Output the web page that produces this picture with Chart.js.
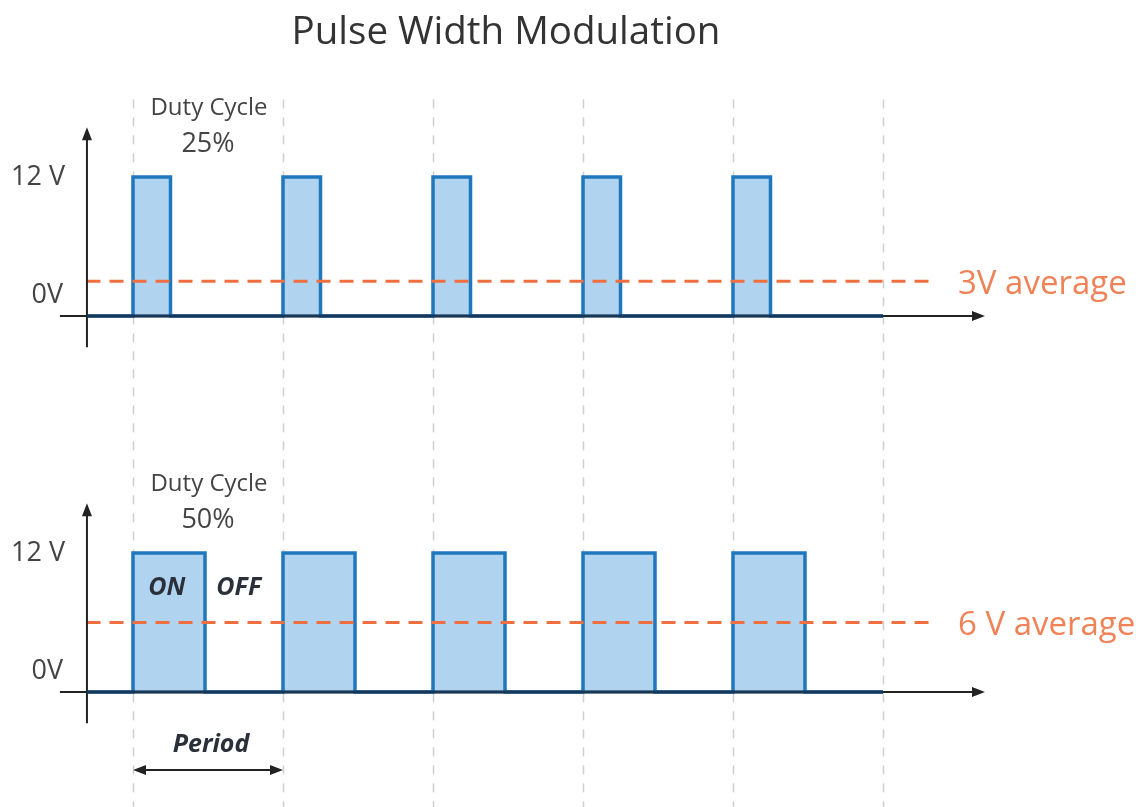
<!DOCTYPE html>
<html>
<head>
<meta charset="utf-8">
<title>Pulse Width Modulation</title>
<script src="https://cdn.jsdelivr.net/npm/chart.js@4.4.1/dist/chart.umd.min.js"></script>
<style>
  html, body { margin: 0; padding: 0; background: #fff; }
  #wrap { position: relative; width: 1142px; height: 807px; }
</style>
</head>
<body>
<div id="wrap"><canvas id="pwm"></canvas></div>
<script>
// temps en périodes, tension en volts
const topTimes = [-0.31, 0, 0.25, 1, 1.25, 2, 2.25, 3, 3.25, 4, 4.25, 5];
const topVolts = [0, 12, 0, 12, 0, 12, 0, 12, 0, 12, 0, 0];
const botTimes = [-0.31, 0, 0.48, 1, 1.48, 2, 2.48, 3, 3.48, 4, 4.48, 5];
const botVolts = [0, 12, 0, 12, 0, 12, 0, 12, 0, 12, 0, 0];
const avgTimes = [-0.31, 5.34];
const topAvg = [3, 3];
const botAvg = [6, 6];
const periodMarks = [0, 1, 2, 3, 4, 5];
const voltTicks = [12, 0];
const voltLabels = ['12 V', '0V'];
const avgLabels = ['3V average', '6 V average'];
const dutyLabels = ['25%', '50%'];

const BLUE = '#1f77bd';
const FILL = '#b0d3ef';
const ORANGE = '#ef6f40';
const ORANGE_TXT = '#f08258';
const GREY_TXT = '#444';
const FONT = '"Open Sans", "Noto Sans", sans-serif';

const pts = (xs, ys) => xs.map((x, i) => ({ x: x, y: ys[i] }));

function signal(xs, ys, axis) {
  return {
    data: pts(xs, ys), yAxisID: axis, stepped: true,
    borderColor: BLUE, borderWidth: 3.5, backgroundColor: FILL,
    fill: 'origin', pointRadius: 0, order: 2
  };
}
function average(ys, axis) {
  return {
    data: pts(avgTimes, ys), yAxisID: axis,
    borderColor: ORANGE, borderWidth: 3, borderDash: [14, 9],
    fill: false, pointRadius: 0, order: 1
  };
}

function arrowHead(ctx, x, y, dir) {
  // dir: 'up' | 'right' | 'left'
  ctx.beginPath();
  if (dir === 'up') { ctx.moveTo(x, y); ctx.lineTo(x - 5, y + 13); ctx.lineTo(x + 5, y + 13); }
  if (dir === 'right') { ctx.moveTo(x, y); ctx.lineTo(x - 13, y - 5); ctx.lineTo(x - 13, y + 5); }
  if (dir === 'left') { ctx.moveTo(x, y); ctx.lineTo(x + 13, y - 5); ctx.lineTo(x + 13, y + 5); }
  ctx.closePath();
  ctx.fill();
}

const decor = {
  id: 'decor',
  beforeDatasetsDraw(chart) {
    const { ctx, scales } = chart;
    const xs = scales.x, yt = scales.yTop;
    // lignes pointillées des périodes
    ctx.save();
    ctx.strokeStyle = '#cfcfcf';
    ctx.lineWidth = 1.5;
    ctx.setLineDash([9, 9]);
    periodMarks.forEach(t => {
      const px = Math.round(xs.getPixelForValue(t)) + 0.5;
      ctx.beginPath();
      ctx.moveTo(px, yt.getPixelForValue(18.7));
      ctx.lineTo(px, chart.height);
      ctx.stroke();
    });
    ctx.restore();
  },
  afterDatasetsDraw(chart) {
    const { ctx, scales } = chart;
    const xs = scales.x;
    ctx.save();
    ctx.textBaseline = 'alphabetic';
    ['yTop', 'yBot'].forEach((id, k) => {
      const ys = scales[id];
      const ax = xs.getPixelForValue(-0.307);
      const y0 = ys.getPixelForValue(0);
      const y12 = ys.getPixelForValue(12);
      ctx.strokeStyle = '#222';
      ctx.fillStyle = '#222';
      ctx.lineWidth = 2;
      // axe vertical
      ctx.beginPath();
      ctx.moveTo(ax, ys.getPixelForValue(-2.7));
      ctx.lineTo(ax, ys.getPixelForValue(16.0));
      ctx.stroke();
      arrowHead(ctx, ax, ys.getPixelForValue(16.3), 'up');
      // axe horizontal
      const xEnd = xs.getPixelForValue(5.68);
      ctx.beginPath();
      ctx.moveTo(xs.getPixelForValue(-0.487), y0);
      ctx.lineTo(xEnd - 8, y0);
      ctx.stroke();
      arrowHead(ctx, xEnd, y0, 'right');
      // ligne de base du signal (bleu sur noir)
      ctx.strokeStyle = 'rgba(25,60,95,0.85)';
      ctx.lineWidth = 3.5;
      ctx.beginPath();
      ctx.moveTo(ax, y0);
      ctx.lineTo(xs.getPixelForValue(5), y0);
      ctx.stroke();

      // étiquettes de tension
      ctx.fillStyle = GREY_TXT;
      ctx.font = '27px ' + FONT;
      ctx.textAlign = 'right';
      ctx.fillText(voltLabels[0], 65, ys.getPixelForValue(voltTicks[0]) + 8);
      ctx.fillText(voltLabels[1], 63, ys.getPixelForValue(voltTicks[1]) - 13);

      // rapport cyclique
      const cx = xs.getPixelForValue(0.5);
      ctx.textAlign = 'center';
      ctx.font = '24px ' + FONT;
      ctx.fillText('Duty Cycle', cx + 1, y12 - 62);
      ctx.font = '27px ' + FONT;
      ctx.fillText(dutyLabels[k], cx, y12 - 25);

      // moyenne
      ctx.fillStyle = ORANGE_TXT;
      ctx.font = '33px ' + FONT;
      ctx.textAlign = 'left';
      ctx.fillText(avgLabels[k], 958, ys.getPixelForValue(k === 0 ? topAvg[0] : botAvg[0]) + 13);
    });

    // ON / OFF / Period
    const yb = scales.yBot;
    ctx.fillStyle = '#2a2f3a';
    ctx.textAlign = 'center';
    ctx.font = 'italic bold 25px ' + FONT;
    ctx.fillText('ON', xs.getPixelForValue(0.225), yb.getPixelForValue(8.37));
    ctx.fillText('OFF', xs.getPixelForValue(0.705), yb.getPixelForValue(8.37));
    ctx.fillText('Period', xs.getPixelForValue(0.52), yb.getPixelForValue(-5.18));
    const ay = yb.getPixelForValue(-6.74);
    const a0 = xs.getPixelForValue(0), a1 = xs.getPixelForValue(1);
    ctx.strokeStyle = '#222';
    ctx.fillStyle = '#222';
    ctx.lineWidth = 2;
    ctx.beginPath();
    ctx.moveTo(a0 + 8, ay);
    ctx.lineTo(a1 - 8, ay);
    ctx.stroke();
    arrowHead(ctx, a0, ay, 'left');
    arrowHead(ctx, a1, ay, 'right');

    // titre
    ctx.fillStyle = '#333';
    ctx.font = '38.5px ' + FONT;
    ctx.textAlign = 'center';
    ctx.fillText('Pulse Width Modulation', 506, 44);
    ctx.restore();
  }
};

new Chart(document.getElementById('pwm'), {
  type: 'line',
  data: {
    datasets: [
      signal(topTimes, topVolts, 'yTop'),
      average(topAvg, 'yTop'),
      signal(botTimes, botVolts, 'yBot'),
      average(botAvg, 'yBot')
    ]
  },
  options: {
    responsive: true,
    maintainAspectRatio: false,
    animation: false,
    layout: { padding: 0 },
    plugins: { legend: { display: false }, tooltip: { enabled: false } },
    scales: {
      // 150 px par période, t = 0 à x = 133
      x: { type: 'linear', display: false, min: -0.8867, max: 6.7267 },
      // 11.58 px par volt, 0 V à y = 316 (haut) et y = 692 (bas)
      yTop: { type: 'linear', display: false, min: -42.39, max: 27.28 },
      yBot: { type: 'linear', display: false, min: -9.93, max: 59.74 }
    }
  },
  plugins: [decor]
});
</script>
</body>
</html>
